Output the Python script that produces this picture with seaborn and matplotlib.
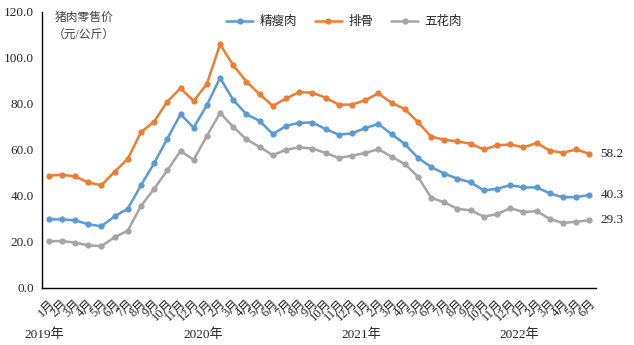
import matplotlib
matplotlib.use("Agg")
import matplotlib.pyplot as plt
import seaborn as sns
import pandas as pd
import numpy as np

sns.set_style("white")
plt.rcParams['font.family'] = ['Liberation Serif', 'Noto Sans CJK SC', 'DejaVu Sans']

months = ["1月", "2月", "3月", "4月", "5月", "6月", "7月", "8月", "9月", "10月", "11月", "12月"] * 3 + \
         ["1月", "2月", "3月", "4月", "5月", "6月"]
years = ["2019年", "2020年", "2021年", "2022年"]
year_start = [0, 12, 24, 36]

lean = [29.7, 29.7, 29.3, 27.6, 26.7, 31.0, 34.3, 44.5, 54.1, 64.8, 75.4, 69.6,
        79.4, 91.2, 81.6, 75.4, 72.5, 66.8, 70.3, 71.7, 71.8, 69.0, 66.5, 67.1,
        69.4, 71.2, 66.8, 62.5, 56.5, 52.5, 49.6, 47.4, 45.8, 42.3, 43.0, 44.6,
        43.6, 43.6, 41.0, 39.3, 39.4, 40.3]
ribs = [48.7, 49.1, 48.4, 45.8, 44.5, 50.4, 56.0, 67.6, 72.2, 80.9, 86.7, 81.2,
        88.6, 105.8, 96.7, 89.6, 84.1, 79.0, 82.3, 85.0, 84.8, 82.6, 79.6, 79.6,
        81.5, 84.5, 80.4, 77.7, 72.0, 65.7, 64.3, 63.6, 62.6, 60.1, 61.9, 62.3,
        61.0, 62.9, 59.6, 58.7, 60.1, 58.2]
belly = [20.2, 20.3, 19.6, 18.4, 18.1, 21.9, 24.8, 35.5, 43.0, 51.0, 59.4, 55.6,
         66.0, 76.0, 69.9, 64.5, 61.2, 57.6, 60.0, 61.0, 60.5, 58.6, 56.4, 57.4,
         58.6, 60.2, 57.0, 53.8, 48.3, 39.1, 37.1, 34.3, 33.6, 30.9, 32.0, 34.6,
         32.9, 33.3, 29.9, 28.1, 28.7, 29.3]
series_names = ["精瘦肉", "排骨", "五花肉"]
colors = ["#5B9BD5", "#ED7D31", "#A5A5A5"]

n = len(months)
idx = np.arange(n)
df = pd.concat([
    pd.DataFrame({"idx": idx, "value": vals, "series": name})
    for name, vals in zip(series_names, [lean, ribs, belly])
])

fig = plt.figure(figsize=(6.34, 3.45), dpi=100)
ax = fig.add_axes([42/634, 1-287.7/345, (596-42)/634, (287.7-11.7)/345])

sns.lineplot(data=df, x="idx", y="value", hue="series", hue_order=series_names,
             palette=colors, marker="o", markersize=4.5, markeredgewidth=0,
             linewidth=1.8, ax=ax, legend=False)

ax.set_xlim(-0.5, n - 0.5)
ax.set_ylim(0, 120)
ax.set_yticks(np.arange(0, 121, 20))
ax.set_yticklabels([f"{v:.1f}" for v in np.arange(0, 121, 20)], fontsize=9.5)
ax.set_xlabel("")
ax.set_ylabel("")

for s in ["top", "right"]:
    ax.spines[s].set_visible(False)
for s in ["left", "bottom"]:
    ax.spines[s].set_color("black")
    ax.spines[s].set_linewidth(1.0)

ax.tick_params(axis="y", which="major", direction="out", length=4, width=1, color="black", pad=2)
ax.set_xticks(np.arange(-0.5, n, 1.0), minor=True)
ax.tick_params(axis="x", which="minor", direction="out", length=4, width=1, color="black")
ax.set_xticks(idx)
ax.set_xticklabels(months, rotation=45, ha="right", va="top", rotation_mode="anchor", fontsize=9)
ax.tick_params(axis="x", which="major", length=0, pad=7)

for ys, yl in zip(year_start, years):
    ax.text(ys - 0.3, -0.172, yl, transform=ax.get_xaxis_transform(), ha="center", va="center",
            fontsize=9.5, clip_on=False)

for vals, c in zip([ribs, lean, belly], colors):
    ax.annotate(f"{vals[-1]:.1f}", xy=(n - 1, vals[-1]), xytext=(8, 0), textcoords="offset points",
                ha="left", va="center", fontsize=9.5, annotation_clip=False)

ax.text(0.075, 1.0, "猪肉零售价\n（元/公斤）", transform=ax.transAxes, ha="center", va="top",
        fontsize=8.5, color="#404040", linespacing=1.6)

from matplotlib.lines import Line2D
handles = [Line2D([0], [0], color=c, lw=1.8, marker="o", markersize=4.5, markeredgewidth=0) for c in colors]
ax.legend(handles, series_names, loc="upper center", bbox_to_anchor=(0.545, 1.025), ncol=3,
          frameon=False, fontsize=9, handlelength=2.2, columnspacing=1.4, handletextpad=0.5)

fig.savefig("out.png", dpi=100)
